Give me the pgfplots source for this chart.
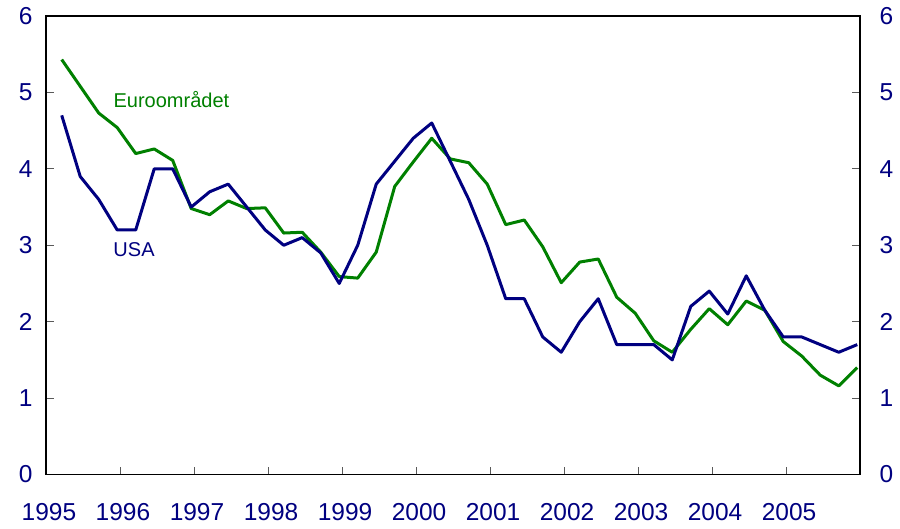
\documentclass[border=0pt]{standalone}
\usepackage{fontspec}
\setmainfont{Liberation Sans}
\usepackage{pgfplots}
\pgfplotsset{compat=1.18}
\definecolor{navy}{RGB}{0,0,128}
\definecolor{eugreen}{RGB}{0,128,0}
\begin{document}
\begin{tikzpicture}
\pgfplotsset{
  common/.style={
    scale only axis, width=814bp, height=458.5bp,
    xmin=-0.85, xmax=43.15, ymin=0, ymax=6,
    ytick={0,1,2,3,4,5,6},
    tick align=inside,
    major tick length=8bp,
    /pgf/number format/assume math mode=true,
    ticklabel style={font=\fontsize{24.5bp}{29bp}\selectfont, text=navy},
    tick style={color=black!65, line width=1bp},
  }
}
\begin{axis}[common,
  axis line style={black, line width=1.5bp},
  xtick={-0.85,3.15,7.15,11.15,15.15,19.15,23.15,27.15,31.15,35.15,39.15,43.15},
  xticklabels={1995,1996,1997,1998,1999,2000,2001,2002,2003,2004,2005,{}},
  xtick pos=bottom,
  ytick pos=both,
  yticklabel pos=left,
  xticklabel style={yshift=-25bp, xshift=3bp},
  yticklabel style={xshift=-10bp},
  clip=false,
]
\addplot[eugreen, line width=3bp, line join=round] coordinates {
(0,5.43)(1,5.08)(2,4.73)(3,4.54)(4,4.20)(5,4.26)(6,4.11)(7,3.48)(8,3.40)(9,3.58)(10,3.48)(11,3.49)(12,3.16)
(13,3.17)(14,2.91)(15,2.59)(16,2.57)(17,2.91)(18,3.77)(19,4.09)(20,4.40)(21,4.13)(22,4.08)(23,3.80)
(24,3.27)(25,3.33)(26,2.98)(27,2.51)(28,2.78)(29,2.82)(30,2.32)(31,2.11)(32,1.75)(33,1.60)
(34,1.90)(35,2.17)(36,1.96)(37,2.27)(38,2.15)(39,1.74)(40,1.55)(41,1.30)(42,1.16)(43,1.40)
};
\addplot[navy, line width=3bp, line join=round] coordinates {
(0,4.7)(1,3.9)(2,3.6)(3,3.2)(4,3.2)(5,4.0)(6,4.0)(7,3.5)(8,3.7)(9,3.8)(10,3.5)(11,3.2)(12,3.0)
(13,3.1)(14,2.9)(15,2.5)(16,3.0)(17,3.8)(18,4.1)(19,4.4)(20,4.6)(21,4.1)(22,3.6)(23,3.0)
(24,2.3)(25,2.3)(26,1.8)(27,1.6)(28,2.0)(29,2.3)(30,1.7)(31,1.7)(32,1.7)(33,1.5)
(34,2.2)(35,2.4)(36,2.1)(37,2.6)(38,2.15)(39,1.8)(40,1.8)(41,1.7)(42,1.6)(43,1.7)
};
\node[text=eugreen, font=\fontsize{20bp}{24bp}\selectfont, anchor=center] at (axis cs:5.93,4.91) {Euroområdet};
\node[text=navy, font=\fontsize{20bp}{24bp}\selectfont, anchor=center] at (axis cs:3.91,2.945) {USA};
\coordinate (bbA) at (rel axis cs:-0.0565,-0.1167);
\coordinate (bbB) at (rel axis cs:1.0491,1.0349);
\end{axis}
\begin{axis}[common,
  hide x axis,
  axis line style={draw=none},
  major tick length=0pt,
  yticklabel pos=right,
  yticklabel style={xshift=16bp},
]
\end{axis}
\path (bbA) rectangle (bbB);
\end{tikzpicture}
\end{document}
